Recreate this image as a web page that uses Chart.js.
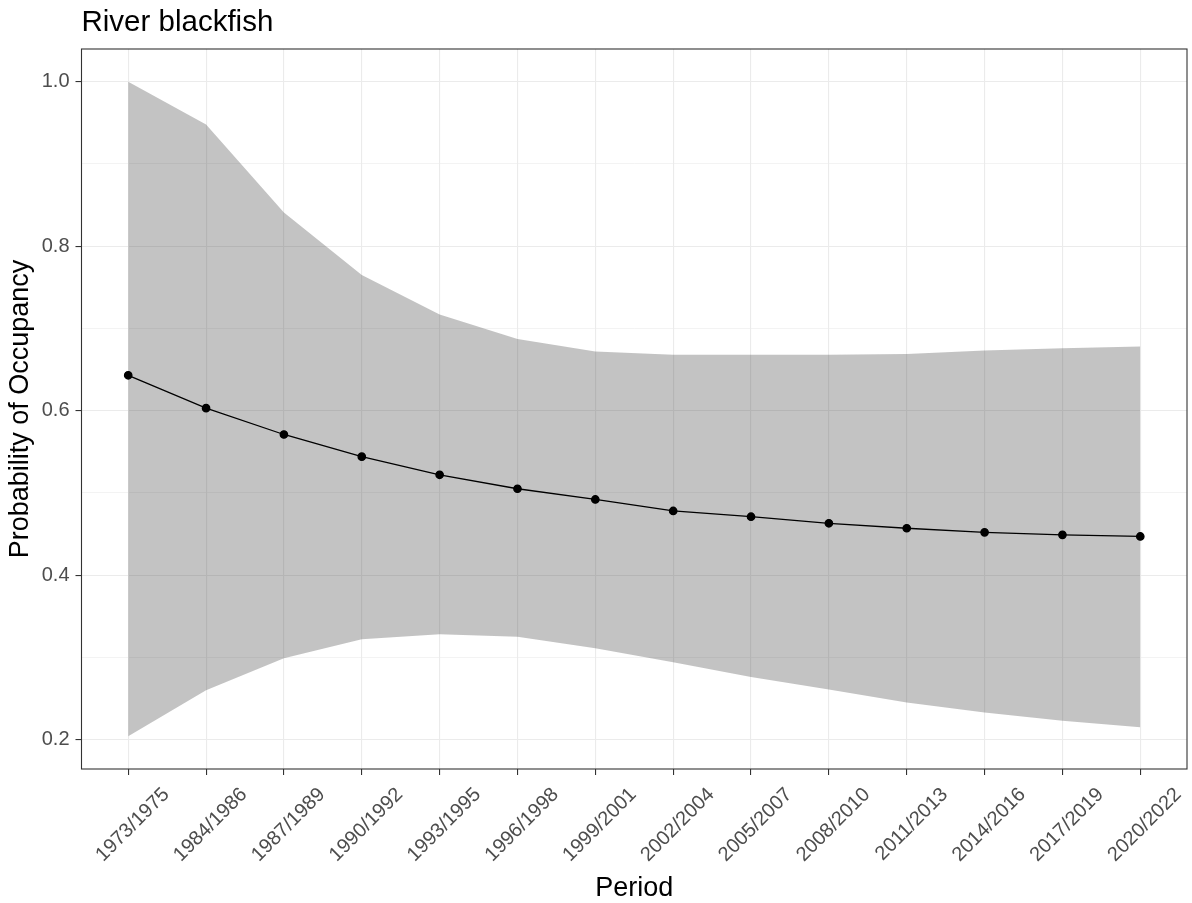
<!DOCTYPE html>
<html>
<head>
<meta charset="utf-8">
<script src="https://cdn.jsdelivr.net/npm/chart.js@4/dist/chart.umd.min.js"></script>
<style>
  html, body { margin: 0; padding: 0; background: #ffffff; }
  #wrap { width: 1192px; height: 903px; }
</style>
</head>
<body>
<div id="wrap"><canvas id="chart" width="1192" height="903"></canvas></div>
<script>
// Survey periods (x categories)
const periods = ['1973/1975', '1984/1986', '1987/1989', '1990/1992', '1993/1995', '1996/1998', '1999/2001',
                 '2002/2004', '2005/2007', '2008/2010', '2011/2013', '2014/2016', '2017/2019', '2020/2022'];
// Estimated probability of occupancy per period
const occupancy = [0.643, 0.603, 0.571, 0.544, 0.522, 0.505, 0.492, 0.478, 0.471, 0.463, 0.457, 0.452, 0.449, 0.447];
// Credible interval bounds
const upper = [1.000, 0.948, 0.841, 0.765, 0.717, 0.687, 0.672, 0.668, 0.668, 0.668, 0.669, 0.673, 0.676, 0.678];
const lower = [0.204, 0.260, 0.299, 0.322, 0.328, 0.325, 0.311, 0.294, 0.276, 0.261, 0.245, 0.233, 0.223, 0.215];
// Y gridlines (major + minor) and the labelled major ticks
const yGrid = [0.2, 0.3, 0.4, 0.5, 0.6, 0.7, 0.8, 0.9, 1.0];
const yTickLabels = ['0.2', '0.4', '0.6', '0.8', '1.0'];

const FONT = '"Liberation Sans", Arial, sans-serif';
const idx = periods.map((_, i) => i);
const pts = arr => arr.map((v, i) => ({ x: i, y: v }));

// continuous-axis expansion of 5% around the data range
const yLo = Math.min(...lower), yHi = Math.max(...upper);
const yPad = (yHi - yLo) * 0.05;

const isMajor = v => yTickLabels.includes(v.toFixed(1));

const titlePlugin = {
  id: 'plotTitle',
  afterDraw(chart) {
    const c = chart.ctx;
    c.save();
    c.font = '29.5px ' + FONT;
    c.fillStyle = '#000000';
    c.textBaseline = 'alphabetic';
    c.textAlign = 'left';
    c.fillText('River blackfish', chart.chartArea.left, 31);
    c.restore();
  }
};

const panelBorder = {
  id: 'panelBorder',
  afterDatasetsDraw(chart) {
    const { left, top, right, bottom } = chart.chartArea;
    const c = chart.ctx;
    c.save();
    c.strokeStyle = '#333333';
    c.lineWidth = 1.1;
    c.strokeRect(left, top, right - left, bottom - top);
    c.restore();
  }
};

new Chart(document.getElementById('chart'), {
  type: 'line',
  data: {
    datasets: [
      {
        label: 'Occupancy',
        data: pts(occupancy),
        borderColor: '#000000',
        backgroundColor: '#000000',
        borderWidth: 1.3,
        pointRadius: 3.7,
        pointHoverRadius: 3.7,
        tension: 0,
        fill: false
      },
      {
        label: 'Upper',
        data: pts(upper),
        borderWidth: 0,
        borderColor: 'rgba(0,0,0,0)',
        pointRadius: 0,
        tension: 0,
        fill: '+1',
        backgroundColor: 'rgba(60,60,60,0.31)'
      },
      {
        label: 'Lower',
        data: pts(lower),
        borderWidth: 0,
        borderColor: 'rgba(0,0,0,0)',
        pointRadius: 0,
        tension: 0,
        fill: false
      }
    ]
  },
  options: {
    responsive: false,
    animation: false,
    devicePixelRatio: 1,
    layout: { padding: { top: 49, right: 2, left: 0, bottom: 0 } },
    plugins: {
      legend: { display: false },
      tooltip: { enabled: false },
      title: { display: false }
    },
    scales: {
      x: {
        type: 'linear',
        min: -0.6,
        max: periods.length - 1 + 0.6,
        afterBuildTicks: s => { s.ticks = idx.map(v => ({ value: v })); },
        afterFit: s => { s.height = 134; },
        grid: {
          color: '#ebebeb',
          lineWidth: 1.1,
          tickColor: '#333333',
          tickWidth: 1.1,
          tickLength: 6,
          drawTicks: true
        },
        border: { display: false },
        ticks: {
          autoSkip: false,
          minRotation: 45,
          maxRotation: 45,
          padding: 8,
          labelOffset: 38,
          color: '#4d4d4d',
          font: { family: FONT, size: 20 },
          callback: v => periods[v]
        },
        title: {
          display: true,
          text: 'Period',
          color: '#000000',
          font: { family: FONT, size: 27 },
          padding: { top: 0, bottom: -2 }
        }
      },
      y: {
        type: 'linear',
        min: yLo - yPad,
        max: yHi + yPad,
        afterBuildTicks: s => { s.ticks = yGrid.map(v => ({ value: v })); },
        afterFit: s => { s.width = 81.5; },
        grid: {
          color: '#ebebeb',
          lineWidth: ctx => (ctx.tick && isMajor(ctx.tick.value)) ? 1.1 : 0.6,
          tickColor: ctx => (ctx.tick && isMajor(ctx.tick.value)) ? '#333333' : 'rgba(0,0,0,0)',
          tickWidth: 1.1,
          tickLength: 6,
          drawTicks: true
        },
        border: { display: false },
        ticks: {
          autoSkip: false,
          padding: 6,
          color: '#4d4d4d',
          font: { family: FONT, size: 20 },
          callback: v => isMajor(v) ? v.toFixed(1) : ''
        },
        title: {
          display: true,
          text: 'Probability of Occupancy',
          color: '#000000',
          font: { family: FONT, size: 27 },
          padding: { top: 4, bottom: 0 }
        }
      }
    }
  },
  plugins: [titlePlugin, panelBorder]
});
</script>
</body>
</html>
